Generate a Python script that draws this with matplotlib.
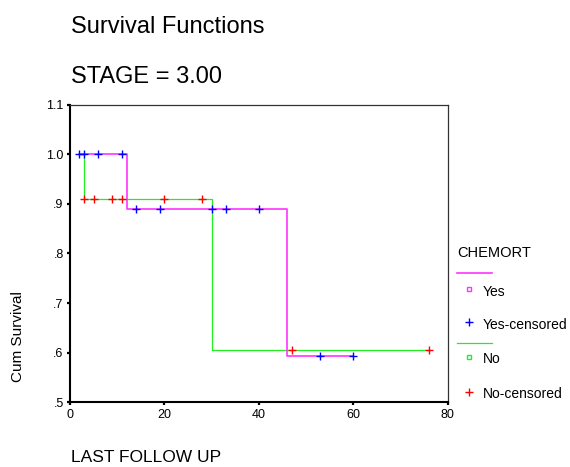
import matplotlib
matplotlib.use("Agg")
import matplotlib.pyplot as plt
from matplotlib.lines import Line2D

plt.rcParams['font.family'] = ['Liberation Sans', 'DejaVu Sans']

# ---- data ----
yes_times = [2, 12, 46, 60]
yes_surv = [1.0, 0.889, 0.593, 0.593]
no_times = [2, 3, 30, 76]
no_surv = [1.0, 0.909, 0.606, 0.606]
yes_cens_t = [2, 3, 6, 11, 14, 19, 30, 33, 40, 53, 60]
yes_cens_s = [1.0, 1.0, 1.0, 1.0, 0.889, 0.889, 0.889, 0.889, 0.889, 0.593, 0.593]
no_cens_t = [3, 5, 9, 11, 20, 28, 47, 76]
no_cens_s = [0.909, 0.909, 0.909, 0.909, 0.909, 0.909, 0.606, 0.606]
yticks = [0.5, 0.6, 0.7, 0.8, 0.9, 1.0, 1.1]
ytick_labels = ['.5', '.6', '.7', '.8', '.9', '1.0', '1.1']
xticks = [0, 20, 40, 60, 80]

MAG = '#ff33ff'
GRN = '#22ee22'
BLU = '#0000ff'
RED = '#ff0000'

W, H = 570, 467
fig = plt.figure(figsize=(W / 100, H / 100), dpi=100)

def fx(px):
    return px / W

def fy(py):
    return 1 - py / H

ax = fig.add_axes([fx(70), fy(402.3), fx(447.7) - fx(70), fy(104.7) - fy(402.3)])
ax.step(no_times, no_surv, where='post', color=GRN, lw=0.9, zorder=2)
ax.step(yes_times, yes_surv, where='post', color=MAG, lw=1.2, zorder=3)
ax.plot(no_cens_t, no_cens_s, ls='none', marker='+', ms=5.5, mew=1.0, color=RED, zorder=4)
ax.plot(yes_cens_t, yes_cens_s, ls='none', marker='+', ms=5.5, mew=1.0, color=BLU, zorder=5)

ax.set_xlim(0, 80)
ax.set_ylim(0.5, 1.1)
ax.set_xticks(xticks)
ax.set_xticklabels([str(v) for v in xticks], fontsize=9)
ax.set_yticks(yticks)
ax.set_yticklabels(ytick_labels, fontsize=9)
ax.tick_params(direction='out', length=2.0, width=1.6, pad=2.5, colors='black')
for s in ['left', 'bottom']:
    ax.spines[s].set_linewidth(1.5)
    ax.spines[s].set_color('black')
for s in ['top', 'right']:
    ax.spines[s].set_linewidth(0.9)
    ax.spines[s].set_color('#333333')

# titles and axis labels
fig.text(fx(70.7), fy(32.7), 'Survival Functions', fontsize=17, ha='left', va='baseline')
fig.text(fx(70.7), fy(82.7), 'STAGE = 3.00', fontsize=17, ha='left', va='baseline')
fig.text(fx(70.7), fy(458), 'LAST FOLLOW UP', fontsize=12.5, ha='left', va='center')
fig.text(fx(18), fy(336.7), 'Cum Survival', fontsize=11, rotation=90, ha='center', va='center')

# legend
fig.text(fx(457.3), fy(252.7), 'CHEMORT', fontsize=10.5, ha='left', va='center')
fig.add_artist(Line2D([fx(457.3), fx(492.3)], [fy(272.7), fy(272.7)], color=MAG, lw=1.2, transform=fig.transFigure))
fig.add_artist(Line2D([fx(468.7)], [fy(288.8)], ls='none', marker='s', ms=3.5, mew=1.0, mfc='none', mec=MAG, transform=fig.transFigure))
fig.text(fx(482.7), fy(291.7), 'Yes', fontsize=10, ha='left', va='center')
fig.add_artist(Line2D([fx(469.3)], [fy(321.7)], ls='none', marker='+', ms=5.5, mew=1.0, color=BLU, transform=fig.transFigure))
fig.text(fx(482.7), fy(325), 'Yes-censored', fontsize=10, ha='left', va='center')
fig.add_artist(Line2D([fx(457.3), fx(492.3)], [fy(343.3), fy(343.3)], color=GRN, lw=0.9, transform=fig.transFigure))
fig.add_artist(Line2D([fx(469.3)], [fy(357.3)], ls='none', marker='s', ms=3.5, mew=1.0, mfc='none', mec=GRN, transform=fig.transFigure))
fig.text(fx(482.7), fy(359), 'No', fontsize=10, ha='left', va='center')
fig.add_artist(Line2D([fx(469.3)], [fy(391.7)], ls='none', marker='+', ms=5.5, mew=1.0, color=RED, transform=fig.transFigure))
fig.text(fx(482.7), fy(394), 'No-censored', fontsize=10, ha='left', va='center')

fig.savefig('out.png', dpi=100)
